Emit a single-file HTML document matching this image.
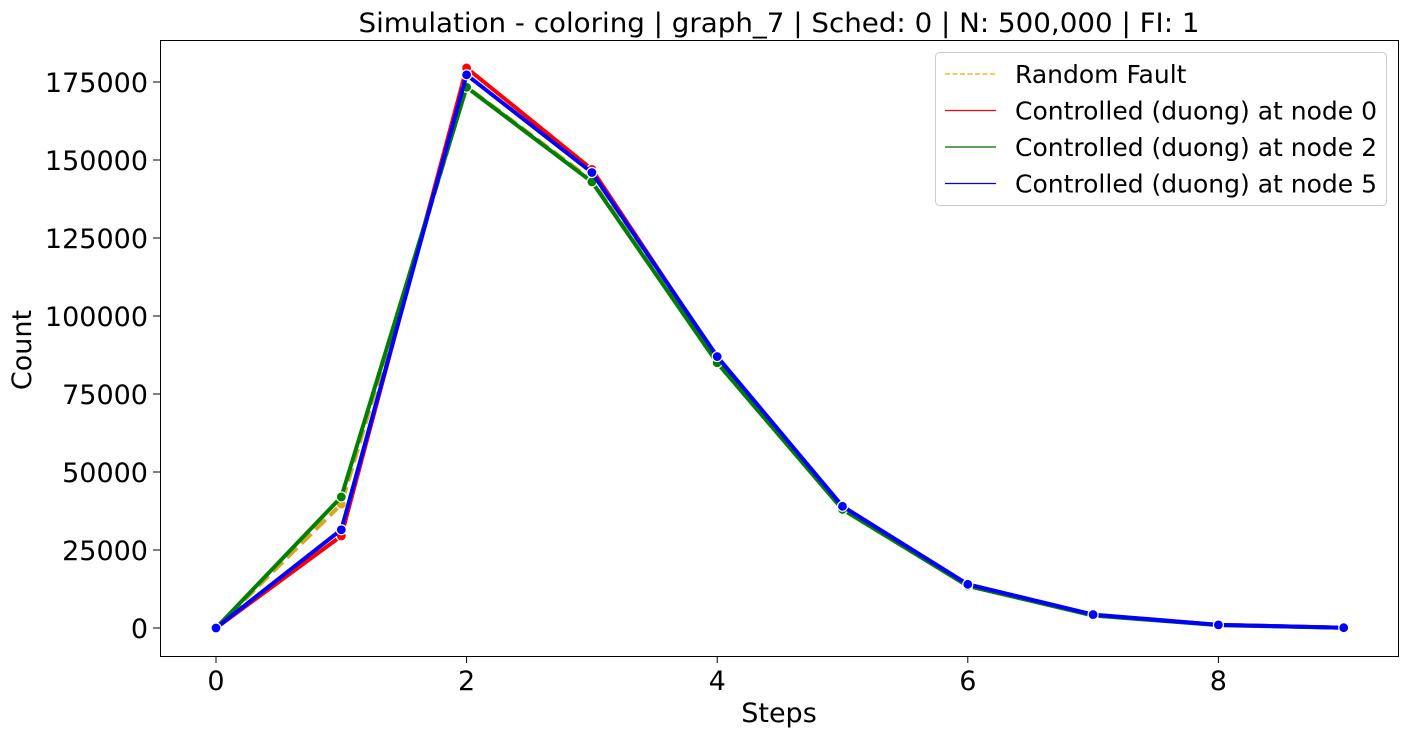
<!DOCTYPE html>
<html><head><meta charset="utf-8"><style>
body{margin:0;background:#fff;}
svg text{font-family:"DejaVu Sans","Liberation Sans",sans-serif;fill:#000;}
</style></head><body>
<svg id="chart" width="1409" height="737" xmlns="http://www.w3.org/2000/svg">
<rect x="0" y="0" width="1409" height="737" fill="#fff"/>
<text x="779" y="32" font-size="27" text-anchor="middle" textLength="841" lengthAdjust="spacingAndGlyphs">Simulation - coloring | graph_7 | Sched: 0 | N: 500,000 | FI: 1</text>
<g id="series"></g>
<rect x="160.5" y="40.5" width="1238" height="616" fill="none" stroke="#000" stroke-width="1"/>
<g id="xticks"></g><g id="yticks"></g>
<text x="779" y="722" font-size="27" text-anchor="middle">Steps</text>
<text x="0" y="0" font-size="27" text-anchor="middle" transform="translate(31,350) rotate(-90)">Count</text>
<g id="legend">
<rect x="935.5" y="52.5" width="451" height="153" rx="4" fill="#fff" fill-opacity="0.8" stroke="#ccc"/>
</g>
</svg>
<script>
const steps=[0,1,2,3,4,5,6,7,8,9];
const seriesNames=["Random Fault","Controlled (duong) at node 0","Controlled (duong) at node 2","Controlled (duong) at node 5"];
const randomFault=[0,39700,173500,143500,85000,38000,13500,4000,1000,100];
const node0=[0,29500,179500,147000,86500,39000,13500,4200,1000,100];
const node2=[0,42000,173300,143000,85000,38000,13500,4000,900,100];
const node5=[0,31500,177300,146000,87000,39000,14000,4300,1000,100];
const xTicks=[0,2,4,6,8];
const yTicks=[0,25000,50000,75000,100000,125000,150000,175000];
const NS="http://www.w3.org/2000/svg";
const xs=v=>216+v*125.3;
const ys=v=>628-v*0.00312;
function mk(tag,attrs,parent){const e=document.createElementNS(NS,tag);for(const k in attrs)e.setAttribute(k,attrs[k]);parent.appendChild(e);return e;}
const sg=document.getElementById('series');
const all=[randomFault,node0,node2,node5];
const cols=["#daa520","#ff0000","#008000","#0000ff"];
const lcol=["#ffa500","#ff0000","#006400","#0000ff"];
const keys=["random-fault","node-0","node-2","node-5"];
all.forEach((d,i)=>{
  const pts=d.map((v,j)=>xs(steps[j])+","+ys(v)).join(" ");
  const pl=mk('polyline',{points:pts,fill:"none",stroke:cols[i],"stroke-width":4,"stroke-linejoin":"round"},sg);
  if(i===0){pl.setAttribute('stroke-dasharray','14,6');}
  
  
  d.forEach((v,j)=>{
    const c=mk('circle',{cx:xs(steps[j]),cy:ys(v),r:5,fill:cols[i],stroke:"#fff","stroke-width":1.2},sg);
    
    
  });
});
const xt=document.getElementById('xticks');
xTicks.forEach(t=>{
  mk('line',{x1:xs(t),x2:xs(t),y1:656,y2:663,stroke:"#000"},xt);
  const tx=mk('text',{x:xs(t),y:690,"font-size":27,"text-anchor":"middle"},xt);tx.textContent=t;
  
  
});
const yt=document.getElementById('yticks');
yTicks.forEach(t=>{
  mk('line',{x1:153,x2:160,y1:ys(t),y2:ys(t),stroke:"#000"},yt);
  const tx=mk('text',{x:148,y:ys(t)+10,"font-size":27,"text-anchor":"end"},yt);tx.textContent=t;
  
  
});
const lg=document.getElementById('legend');
seriesNames.forEach((n,i)=>{
  const y=74+i*36.5;
  const l=mk('line',{x1:945,x2:996,y1:y,y2:y,stroke:lcol[i],"stroke-width":1.3},lg);
  if(i===0)l.setAttribute('stroke-dasharray','5,2.5');
  const tx=mk('text',{x:1015,y:y+9,"font-size":25},lg);tx.textContent=n;
  
  
});
</script>
</body></html>
